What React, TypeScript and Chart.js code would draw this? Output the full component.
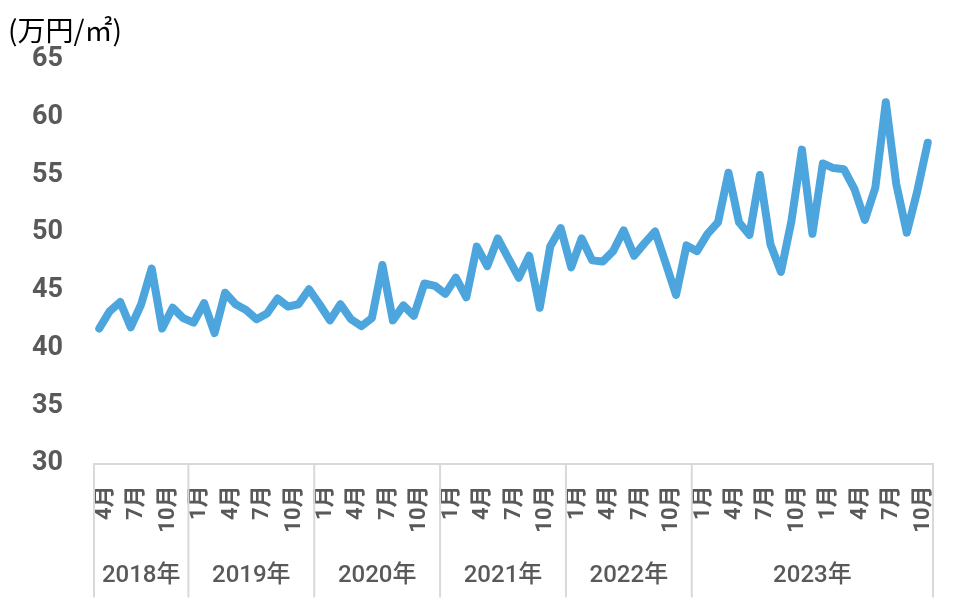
import { useEffect, useRef } from "react";
import { Chart, registerables } from "chart.js";

Chart.register(...registerables);

// year groups on the bottom axis and how many months each one holds
const yearLabels = ["2018年", "2019年", "2020年", "2021年", "2022年", "2023年"];
const yearMonthCounts = [9, 12, 12, 12, 12, 23];

// month of every data point (Apr 2018 ... Nov 2024)
const months = [
  4, 5, 6, 7, 8, 9, 10, 11, 12,
  1, 2, 3, 4, 5, 6, 7, 8, 9, 10, 11, 12,
  1, 2, 3, 4, 5, 6, 7, 8, 9, 10, 11, 12,
  1, 2, 3, 4, 5, 6, 7, 8, 9, 10, 11, 12,
  1, 2, 3, 4, 5, 6, 7, 8, 9, 10, 11, 12,
  1, 2, 3, 4, 5, 6, 7, 8, 9, 10, 11, 12,
  1, 2, 3, 4, 5, 6, 7, 8, 9, 10, 11,
];
const labeledMonths = [1, 4, 7, 10];

// price, 万円/㎡
const prices = [
  41.7, 43.2, 44.0, 41.8, 43.8, 46.9, 41.7, 43.5, 42.6,
  42.2, 43.9, 41.3, 44.8, 43.8, 43.3, 42.5, 43.0, 44.3, 43.6, 43.8, 45.1,
  43.8, 42.4, 43.8, 42.5, 41.9, 42.6, 47.2, 42.4, 43.7, 42.8, 45.6, 45.4,
  44.7, 46.1, 44.4, 48.8, 47.1, 49.5, 47.8, 46.1, 48.0, 43.5, 48.8, 50.4,
  47.0, 49.5, 47.6, 47.5, 48.4, 50.2, 48.0, 49.1, 50.1, 47.4, 44.6, 48.9,
  48.4, 49.9, 50.9, 55.2, 50.9, 49.8, 55.0, 49.0, 46.6, 51.0, 57.2, 49.9,
  56.0, 55.6, 55.5, 53.8, 51.1, 53.9, 61.3, 54.2, 50.0, 53.6, 57.8,
];

const yMin = 30;
const yMax = 65;
const yStep = 5;

const GRAY_TEXT = "#595959";
const AXIS_GRAY = "#d9d9d9";
const FONT = "Roboto, 'Noto Sans CJK JP', sans-serif";

// draws the year row and the separators below the x axis
const yearGroupPlugin = {
  id: "yearGroups",
  afterDraw(chart: any) {
    const { ctx, chartArea, scales } = chart;
    const x = scales.x;
    const half = (x.getPixelForValue(1) - x.getPixelForValue(0)) / 2;
    const top = chartArea.bottom;
    const bottom = chartArea.bottom + 134;
    ctx.save();
    ctx.strokeStyle = AXIS_GRAY;
    ctx.lineWidth = 2;
    ctx.fillStyle = GRAY_TEXT;
    ctx.font = `500 24px ${FONT}`;
    ctx.textAlign = "center";
    ctx.textBaseline = "middle";
    let start = 0;
    yearMonthCounts.forEach((count, i) => {
      const left = x.getPixelForValue(start) - half;
      const right = x.getPixelForValue(start + count - 1) + half;
      ctx.beginPath();
      ctx.moveTo(left, top);
      ctx.lineTo(left, bottom);
      if (i === yearMonthCounts.length - 1) {
        ctx.moveTo(right, top);
        ctx.lineTo(right, bottom);
      }
      ctx.stroke();
      ctx.fillText(yearLabels[i], (left + right) / 2, top + 112);
      start += count;
    });
    ctx.restore();
  },
};

export default function App() {
  const canvasRef = useRef<HTMLCanvasElement | null>(null);

  useEffect(() => {
    document.body.style.margin = "0";
    if (!canvasRef.current) return;
    const chart = new Chart(canvasRef.current, {
      type: "line",
      data: {
        labels: months.map((m) => `${m}月`),
        datasets: [
          {
            data: prices,
            borderColor: "#4ca5dd",
            borderWidth: 8,
            borderJoinStyle: "round",
            borderCapStyle: "round",
            pointRadius: 0,
            tension: 0,
            fill: false,
          },
        ],
      },
      options: {
        responsive: false,
        animation: false,
        layout: { padding: { left: 8, right: 23, top: 0, bottom: 0 } },
        plugins: {
          legend: { display: false },
          tooltip: { enabled: false },
          title: {
            display: true,
            text: "(万円/㎡)",
            align: "start",
            color: "#000000",
            font: { family: "'Noto Sans CJK JP', sans-serif", size: 28, weight: "normal" },
            padding: { top: 14, bottom: 12 },
          },
        },
        scales: {
          x: {
            type: "category",
            offset: true,
            grid: { display: false, drawTicks: false },
            border: { display: true, color: AXIS_GRAY, width: 2 },
            ticks: {
              autoSkip: false,
              minRotation: 90,
              maxRotation: 90,
              padding: 22,
              labelOffset: 6,
              color: GRAY_TEXT,
              font: { family: FONT, size: 22, weight: "bold" },
              callback: (_v: any, i: number) =>
                labeledMonths.includes(months[i]) ? `${months[i]}月` : "",
            },
            afterFit: (scale: any) => {
              scale.height = 150.5;
              scale.paddingLeft = 0;
              scale.paddingRight = 0;
            },
          },
          y: {
            min: yMin,
            max: yMax,
            grid: { display: false, drawTicks: false },
            border: { display: false },
            ticks: {
              stepSize: yStep,
              padding: 31,
              color: GRAY_TEXT,
              font: { family: FONT, size: 27, weight: "bold" },
            },
            afterFit: (scale: any) => {
              scale.width = 86;
            },
          },
        },
      },
      plugins: [yearGroupPlugin],
    });
    return () => {
      chart.destroy();
    };
  }, []);

  return (
    <div style={{ width: 956, height: 614 }}>
      <canvas ref={canvasRef} width={956} height={614}></canvas>
    </div>
  );
}
